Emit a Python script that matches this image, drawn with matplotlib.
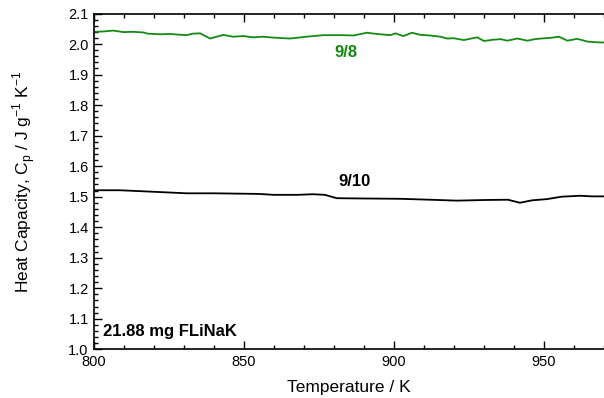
import matplotlib
matplotlib.use('Agg')
import matplotlib.pyplot as plt
from matplotlib.ticker import MultipleLocator

plt.rcParams['font.family'] = ['Liberation Sans', 'DejaVu Sans']

# 9/8 run (green)
t_98 = [800, 803, 806.6, 810, 813, 816.6, 818, 822, 825.5, 828, 831, 833, 835.5, 838.8,
        843.2, 846.5, 850, 853, 856.5, 860, 865.4, 870.9, 876.5, 883, 886.6, 891,
        894.3, 898.8, 900.5, 903.2, 906, 908.9, 912, 915.5, 917.8, 920, 923.3, 927.8,
        930, 933, 935.6, 937.8, 941.1, 944.5, 947, 949, 952, 955, 957.8, 961.1, 964.5,
        967, 970]
cp_98 = [2.040, 2.041, 2.044, 2.039, 2.040, 2.038, 2.034, 2.032, 2.033, 2.031, 2.029,
         2.034, 2.035, 2.018, 2.030, 2.024, 2.026, 2.022, 2.024, 2.021, 2.018, 2.024,
         2.029, 2.029, 2.028, 2.037, 2.033, 2.029, 2.035, 2.026, 2.037, 2.030, 2.028,
         2.024, 2.018, 2.019, 2.013, 2.022, 2.010, 2.014, 2.016, 2.011, 2.018, 2.011,
         2.016, 2.018, 2.020, 2.024, 2.011, 2.017, 2.008, 2.006, 2.005]

# 9/10 run (black)
t_910 = [800, 808.8, 820, 831, 840, 847.5, 855, 860, 868, 873, 877, 881, 890, 902,
         912, 921, 930, 938, 942, 946, 951, 956, 962, 966, 970]
cp_910 = [1.521, 1.521, 1.516, 1.511, 1.511, 1.510, 1.509, 1.506, 1.506, 1.508, 1.506,
          1.495, 1.494, 1.493, 1.490, 1.487, 1.489, 1.490, 1.480, 1.488, 1.492, 1.500,
          1.503, 1.501, 1.501]

fig = plt.figure(figsize=(6.04, 3.98), dpi=100)
ax = fig.add_axes([93.6 / 604, 1 - 349.3 / 398, 1 - 93.6 / 604, (349.3 - 13.5) / 398])

ax.plot(t_98, cp_98, color='#138a13', lw=1.3)
ax.plot(t_910, cp_910, color='black', lw=1.3)

ax.text(884, 1.971, '9/8', color='#138a13', fontsize=12, fontweight='bold', ha='center', va='center')
ax.text(887, 1.549, '9/10', color='black', fontsize=12, fontweight='bold', ha='center', va='center')
ax.text(803, 1.057, '21.88 mg FLiNaK', color='black', fontsize=12, fontweight='bold', ha='left', va='center')

ax.set_xlim(800, 970)
ax.set_ylim(1.0, 2.1)
ax.xaxis.set_major_locator(MultipleLocator(50))
ax.xaxis.set_minor_locator(MultipleLocator(10))
ax.yaxis.set_major_locator(MultipleLocator(0.1))
ax.yaxis.set_minor_locator(MultipleLocator(0.02))
ax.yaxis.set_major_formatter(plt.FormatStrFormatter('%.1f'))
ax.tick_params(which='both', direction='in', top=True, right=False, labelsize=10.5, width=1)
ax.tick_params(which='major', length=6)
ax.tick_params(which='minor', length=3)
ax.tick_params(axis='x', pad=4)
ax.spines['right'].set_visible(False)
for s in ['left', 'bottom', 'top']:
    ax.spines[s].set_linewidth(1.2)

ax.set_xlabel('Temperature / K', fontsize=12.5, labelpad=8)
ax.set_ylabel('Heat Capacity, C$_\\mathregular{p}$ / J g$^{\\mathregular{-1}}$ K$^{\\mathregular{-1}}$',
              fontsize=12.5, labelpad=22)

fig.savefig('out.png', dpi=100)
